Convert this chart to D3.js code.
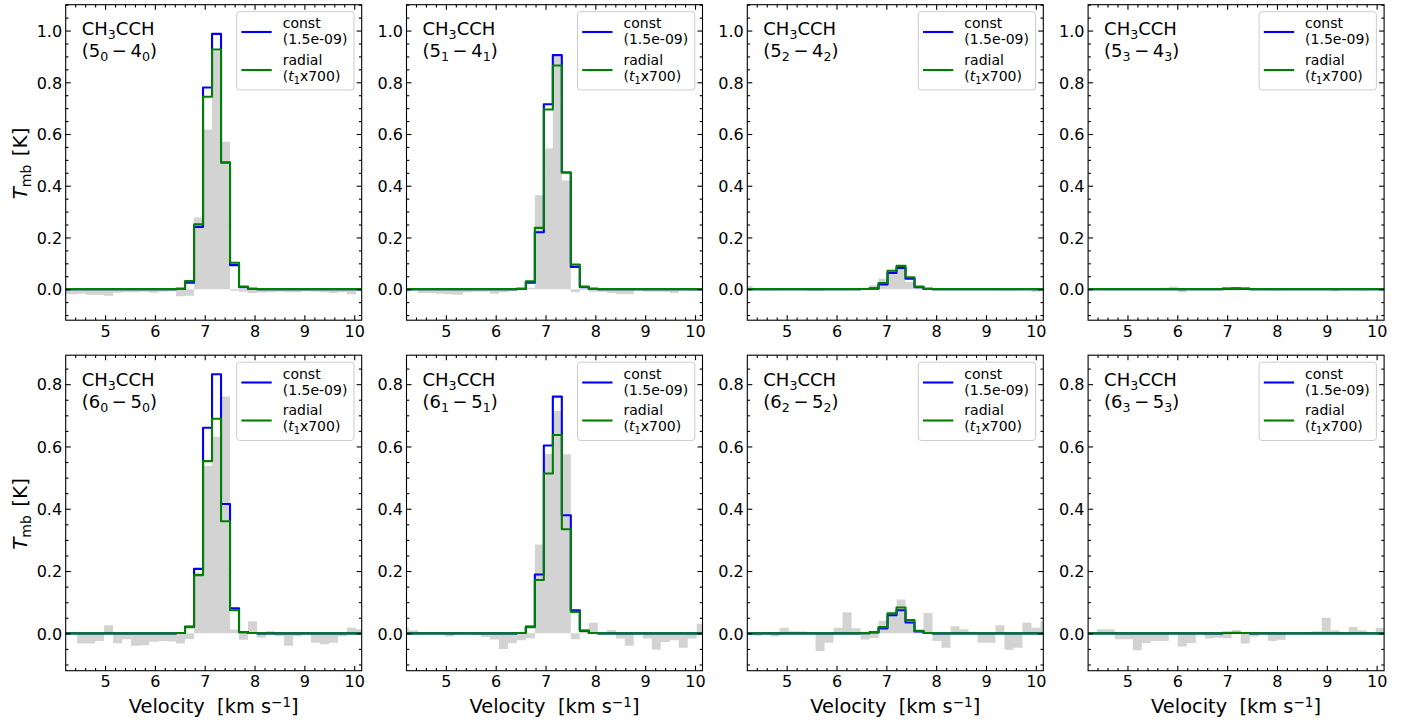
<!DOCTYPE html>
<html>
<head>
<meta charset="utf-8">
<script src="https://cdn.jsdelivr.net/npm/d3@7"></script>
<style>
  html, body { margin: 0; padding: 0; background: #ffffff; }
  svg { display: block; font-family: "DejaVu Sans", sans-serif; }
</style>
</head>
<body>
<svg id="fig" width="1406" height="722"></svg>
<script>
// ---- channel centres (km/s) of the three spectral grids ----
const velA = [4.168, 4.349, 4.529, 4.710, 4.890, 5.071, 5.251, 5.432, 5.612, 5.793,
              5.973, 6.154, 6.334, 6.515, 6.695, 6.876, 7.056, 7.237, 7.417, 7.598,
              7.778, 7.959, 8.139, 8.320, 8.500, 8.681, 8.861, 9.042, 9.222, 9.403,
              9.583, 9.764, 9.944, 10.125, 10.305];
const velB = [4.114, 4.295, 4.475, 4.656, 4.836, 5.017, 5.197, 5.378, 5.558, 5.739,
              5.919, 6.100, 6.280, 6.461, 6.641, 6.822, 7.002, 7.183, 7.363, 7.544,
              7.724, 7.905, 8.085, 8.266, 8.446, 8.627, 8.807, 8.988, 9.168, 9.349,
              9.529, 9.710, 9.890, 10.071, 10.251];
const velC = [4.226, 4.407, 4.587, 4.768, 4.948, 5.129, 5.309, 5.490, 5.670, 5.851,
              6.031, 6.212, 6.392, 6.573, 6.753, 6.934, 7.114, 7.295, 7.475, 7.656,
              7.836, 8.017, 8.197, 8.378, 8.558, 8.739, 8.919, 9.100, 9.280, 9.461,
              9.641, 9.822, 10.002, 10.183];

// ---- observed spectra, T_mb (K) ----
const obs50 = [-0.020,-0.020,-0.018,-0.022,-0.022,-0.025,-0.014,-0.012,-0.012,-0.010,
               -0.014,-0.010,-0.008,-0.027,-0.025,0.277,0.617,0.920,0.570,-0.006,
               -0.010,-0.015,-0.013,-0.012,-0.010,-0.012,-0.012,-0.008,-0.010,-0.012,
               -0.015,-0.012,-0.020,-0.008,0];
const obs51 = [-0.012,-0.005,-0.015,-0.015,-0.018,-0.020,-0.022,-0.012,-0.010,-0.010,
               -0.018,-0.012,-0.008,-0.005,0.005,0.363,0.544,0.900,0.420,-0.012,
               -0.003,-0.010,-0.010,-0.015,-0.020,-0.020,-0.005,-0.010,-0.010,-0.010,
               -0.015,-0.005,-0.008,-0.005,0];
const obs52 = [0.012,-0.003,-0.005,-0.004,0.002,0.003,0.002,-0.006,-0.006,0.001,
               0.002,-0.002,-0.003,0.005,0.015,0.040,0.058,0.080,0.028,0.010,
               -0.002,0.001,-0.002,0.001,-0.003,0.001,-0.002,0.002,-0.004,-0.005,
               0.001,0.002,-0.010,-0.008];
const obs53 = [0,0.001,-0.002,0.001,-0.002,-0.003,-0.003,0.001,0.002,0.005,
               0.010,-0.012,0.001,-0.002,0.002,0.001,-0.005,-0.005,0.003,0.002,
               -0.001,-0.004,-0.004,0.001,0,0.001,-0.001,0.002,-0.008,0.002,
               0,-0.005,0.001,0,0];
const obs60 = [0,0,-0.033,-0.033,-0.025,0.026,-0.032,-0.019,-0.040,-0.038,
               -0.027,-0.025,-0.026,-0.033,-0.018,0.195,0.538,0.631,0.760,0.012,
               -0.021,0.039,-0.014,0.007,-0.009,-0.040,-0.009,0,-0.030,-0.035,
               -0.030,-0.009,0.018,0.013,0];
const obs61 = [0.018,0.010,0.002,0.004,0.004,-0.010,0.003,0.002,-0.004,-0.012,
               -0.020,-0.050,-0.032,-0.022,-0.016,0.285,0.576,0.714,0.575,-0.019,
               0.005,0.034,-0.002,0.011,-0.017,-0.040,-0.003,-0.017,-0.053,-0.028,
               -0.022,-0.046,-0.017,0.031,0];
const obs62 = [0,-0.008,0.004,-0.010,0.018,0.007,0.006,0,-0.057,-0.030,
               0.018,0.068,0.016,-0.020,-0.015,0.040,0.060,0.109,0.040,0.008,
               0.065,-0.025,-0.046,0.023,0.013,0.005,-0.030,-0.030,0.026,-0.053,
               -0.046,0.034,0.018,0.040];
const obs63 = [0,0,0.013,0.013,-0.019,-0.019,-0.054,-0.031,-0.025,-0.025,
               0.001,-0.042,-0.031,-0.002,-0.017,-0.014,-0.016,0.011,-0.033,-0.010,
               -0.002,-0.025,-0.021,0,0.001,0.003,0.007,0.050,0.010,-0.003,
               0.020,0.010,0,0.018,0];

// ---- model spectra: constant abundance ----
const const50 = [0,0,0,0,0,0,0,0,0,0, 0,0,0,0.001,0.025,0.241,0.780,0.987,0.490,0.093,
                 0.008,0.001,0,0,0,0,0,0,0,0, 0,0,0,0,0];
const const51 = [0,0,0,0,0,0,0,0,0,0, 0,0,0,0.001,0.025,0.220,0.715,0.905,0.451,0.086,
                 0.008,0.001,0,0,0,0,0,0,0,0, 0,0,0,0,0];
const const52 = [0,0,0,0,0,0,0,0,0,0, 0,0,0,0.0005,0.002,0.018,0.063,0.082,0.040,0.008,
                 0.001,0,0,0,0,0,0,0,0,0, 0,0,0,0];
const const53 = [0,0,0,0,0,0,0,0,0,0, 0,0,0,0,0,0,0.001,0.002,0.001,0,
                 0,0,0,0,0,0,0,0,0,0, 0,0,0,0,0];
const const60 = [0,0,0,0,0,0,0,0,0,0, 0,0,0,0.001,0.022,0.207,0.660,0.832,0.415,0.080,
                 0.004,0.001,0,0,0,0,0,0,0,0, 0,0,0,0,0];
const const61 = [0,0,0,0,0,0,0,0,0,0, 0,0,0,0.001,0.022,0.189,0.603,0.760,0.379,0.074,
                 0.008,0.001,0,0,0,0,0,0,0,0, 0,0,0,0,0];
const const62 = [0,0,0,0,0,0,0,0,0,0, 0,0,0,0.0005,0.003,0.016,0.058,0.074,0.035,0.006,
                 0.001,0,0,0,0,0,0,0,0,0, 0,0,0,0];
const const63 = [0,0,0,0,0,0,0,0,0,0, 0,0,0,0,0,0,0.001,0.001,0.001,0,
                 0,0,0,0,0,0,0,0,0,0, 0,0,0,0,0];

// ---- model spectra: radial abundance profile ----
const radial50 = [0,0,0,0,0,0,0,0,0,0, 0,0,0,0.001,0.031,0.251,0.744,0.927,0.490,0.102,
                  0.010,0.001,0,0,0,0,0,0,0,0, 0,0,0,0,0];
const radial51 = [0,0,0,0,0,0,0,0,0,0, 0,0,0,0.001,0.030,0.237,0.695,0.865,0.451,0.095,
                  0.010,0.001,0,0,0,0,0,0,0,0, 0,0,0,0,0];
const radial52 = [0,0,0,0,0,0,0,0,0,0, 0,0,0,0.0005,0.003,0.024,0.071,0.090,0.046,0.010,
                  0.001,0,0,0,0,0,0,0,0,0, 0,0,0,0];
const radial53 = [0,0,0,0,0,0,0,0,0,0, 0,0,0,0,0,0,0.002,0.003,0.002,0,
                  0,0,0,0,0,0,0,0,0,0, 0,0,0,0,0];
const radial60 = [0,0,0,0,0,0,0,0,0,0, 0,0,0,0.001,0.020,0.187,0.553,0.689,0.360,0.074,
                  0.004,0.001,0,0,0,0,0,0,0,0, 0,0,0,0,0];
const radial61 = [0,0,0,0,0,0,0,0,0,0, 0,0,0,0.001,0.020,0.171,0.513,0.637,0.334,0.069,
                  0.009,0.001,0,0,0,0,0,0,0,0, 0,0,0,0,0];
const radial62 = [0,0,0,0,0,0,0,0,0,0, 0,0,0,0.0005,0.004,0.020,0.064,0.083,0.043,0.008,
                  0.001,0,0,0,0,0,0,0,0,0, 0,0,0,0];
const radial63 = [0,0,0,0,0,0,0,0,0,0, 0,0,0,0,0,0,0.002,0.002,0.001,0,
                  0,0,0,0,0,0,0,0,0,0, 0,0,0,0,0];

// ---- axis ranges and tick labels ----
const xRange = [4.21, 10.15];
const yRangeJ5 = [-0.12, 1.10];
const yRangeJ6 = [-0.12, 0.893];
const xTicks = [5, 6, 7, 8, 9, 10];
const yTicksJ5 = [0.0, 0.2, 0.4, 0.6, 0.8, 1.0];
const yTicksJ6 = [0.0, 0.2, 0.4, 0.6, 0.8];
const legendConst = "(1.5e-09)";
const legendRadialFactor = "x700)";

// transitions: upper J, K, lower J
const panels = [
  { Ju: "5", K: "0", Jl: "4", vel: velA, obs: obs50, cst: const50, rad: radial50 },
  { Ju: "5", K: "1", Jl: "4", vel: velA, obs: obs51, cst: const51, rad: radial51 },
  { Ju: "5", K: "2", Jl: "4", vel: velC, obs: obs52, cst: const52, rad: radial52 },
  { Ju: "5", K: "3", Jl: "4", vel: velB, obs: obs53, cst: const53, rad: radial53 },
  { Ju: "6", K: "0", Jl: "5", vel: velA, obs: obs60, cst: const60, rad: radial60 },
  { Ju: "6", K: "1", Jl: "5", vel: velA, obs: obs61, cst: const61, rad: radial61 },
  { Ju: "6", K: "2", Jl: "5", vel: velC, obs: obs62, cst: const62, rad: radial62 },
  { Ju: "6", K: "3", Jl: "5", vel: velB, obs: obs63, cst: const63, rad: radial63 }
];

// ---- layout ----
const colLeft = [65.7, 406.5, 747.3, 1088.1];
const rowTop = [4.7, 355.2];
const PW = 296, PH = 315.5;
const FS_TICK = 16, FS_XLAB = 19.4, FS_YLAB = 20, FS_NOTE = 18, FS_LEG = 14;

const svg = d3.select("#fig");
const defs = svg.append("defs");

// bin edges from channel centres
function binEdges(v) {
  const e = [v[0] - (v[1] - v[0]) / 2];
  for (let i = 1; i < v.length; i++) e.push((v[i - 1] + v[i]) / 2);
  const n = v.length;
  e.push(v[n - 1] + (v[n - 1] - v[n - 2]) / 2);
  return e;
}
function stepPoints(vel, vals) {
  const e = binEdges(vel);
  const pts = vals.map((t, i) => ({ x: e[i], t: t }));
  pts.push({ x: e[vals.length], t: vals[vals.length - 1] });
  return pts;
}

panels.forEach((p, idx) => {
  const row = Math.floor(idx / 4), col = idx % 4;
  const x0 = colLeft[col], y0 = rowTop[row];
  const yDom = row === 0 ? yRangeJ5 : yRangeJ6;
  const yTicks = row === 0 ? yTicksJ5 : yTicksJ6;

  const x = d3.scaleLinear().domain(xRange).range([0, PW]);
  const y = d3.scaleLinear().domain(yDom).range([PH, 0]);

  const g = svg.append("g").attr("transform", `translate(${x0},${y0})`);
  const clipId = "clip" + idx;
  defs.append("clipPath").attr("id", clipId)
    .append("rect").attr("width", PW).attr("height", PH);
  const plot = g.append("g").attr("clip-path", `url(#${clipId})`);

  // observed spectrum as a filled histogram
  const area = d3.area()
    .x(d => x(d.x)).y0(y(0)).y1(d => y(d.t))
    .curve(d3.curveStepAfter);
  plot.append("path").datum(stepPoints(p.vel, p.obs))
    .attr("d", area).attr("fill", "#d3d3d3").attr("stroke", "none");

  // model spectra
  const line = d3.line().x(d => x(d.x)).y(d => y(d.t)).curve(d3.curveStepAfter);
  plot.append("path").datum(stepPoints(p.vel, p.cst))
    .attr("d", line).attr("fill", "none").attr("stroke", "#0000ff")
    .attr("stroke-width", 2.1).attr("stroke-linejoin", "round");
  plot.append("path").datum(stepPoints(p.vel, p.rad))
    .attr("d", line).attr("fill", "none").attr("stroke", "#008000")
    .attr("stroke-width", 2.1).attr("stroke-linejoin", "round");

  // ticks (inward, on all four sides)
  const xMinor = d3.range(4.2, 10.21, 0.2).filter(v => v >= xRange[0] && v <= xRange[1]
                     && Math.abs(v - Math.round(v)) > 1e-6);
  const yMinor = d3.range(-0.10, yDom[1], 0.05).filter(v => v >= yDom[0] && v <= yDom[1]
                     && Math.abs(v * 5 - Math.round(v * 5)) > 1e-6);
  const MAJ = 5, MIN = 2.8;

  function styleAxis(sel) {
    sel.select(".domain").remove();
    sel.selectAll(".tick line").attr("stroke", "#000").attr("stroke-width", 1.1);
    sel.selectAll(".tick text").attr("fill", "#000").attr("font-size", FS_TICK)
      .attr("font-family", "DejaVu Sans, sans-serif");
  }

  // bottom
  g.append("g").attr("transform", `translate(0,${PH})`)
    .call(d3.axisBottom(x).tickValues(xTicks).tickFormat(d3.format("d"))
      .tickSize(-MAJ).tickPadding(5.3))
    .call(styleAxis);
  g.append("g").attr("transform", `translate(0,${PH})`)
    .call(d3.axisBottom(x).tickValues(xMinor).tickFormat("").tickSize(-MIN))
    .call(styleAxis);
  // top
  g.append("g")
    .call(d3.axisTop(x).tickValues(xTicks).tickFormat("").tickSize(-MAJ))
    .call(styleAxis);
  g.append("g")
    .call(d3.axisTop(x).tickValues(xMinor).tickFormat("").tickSize(-MIN))
    .call(styleAxis);
  // left
  const la = g.append("g")
    .call(d3.axisLeft(y).tickValues(yTicks).tickFormat(d3.format(".1f"))
      .tickSize(-MAJ).tickPadding(3.6))
    .call(styleAxis);
  la.selectAll(".tick text").attr("dy", "0.36em");
  g.append("g")
    .call(d3.axisLeft(y).tickValues(yMinor).tickFormat("").tickSize(-MIN))
    .call(styleAxis);
  // right
  g.append("g").attr("transform", `translate(${PW},0)`)
    .call(d3.axisRight(y).tickValues(yTicks).tickFormat("").tickSize(-MAJ))
    .call(styleAxis);
  g.append("g").attr("transform", `translate(${PW},0)`)
    .call(d3.axisRight(y).tickValues(yMinor).tickFormat("").tickSize(-MIN))
    .call(styleAxis);

  // frame
  g.append("rect").attr("width", PW).attr("height", PH)
    .attr("fill", "none").attr("stroke", "#000").attr("stroke-width", 1.1);

  // species and transition label
  const subSize = FS_NOTE * 0.7;
  const t1 = g.append("text").attr("x", 16).attr("y", 30.8)
    .attr("font-size", FS_NOTE).attr("fill", "#000");
  t1.append("tspan").text("CH");
  t1.append("tspan").attr("dy", 4).attr("font-size", subSize).text("3");
  t1.append("tspan").attr("dy", -4).text("CCH");

  const t2 = g.append("text").attr("x", 16).attr("y", 30.8 + 21.6)
    .attr("font-size", FS_NOTE).attr("fill", "#000").style("white-space", "pre");
  t2.append("tspan").text("(" + p.Ju);
  t2.append("tspan").attr("dy", 4).attr("font-size", subSize).text(p.K);
  t2.append("tspan").attr("dy", -4).text("\u2009\u2212\u2009" + p.Jl);
  t2.append("tspan").attr("dy", 4).attr("font-size", subSize).text(p.K);
  t2.append("tspan").attr("dy", -4).text(")");

  // legend
  const LW = 117.3, LH = 78.3;
  const lg = g.append("g").attr("transform", `translate(${PW - 7.7 - LW},7)`);
  lg.append("rect").attr("width", LW).attr("height", LH).attr("rx", 3)
    .attr("fill", "#ffffff").attr("fill-opacity", 0.8)
    .attr("stroke", "#cccccc").attr("stroke-width", 1);
  const legSub = FS_LEG * 0.7;
  const entries = [
    { color: "#0000ff", yl: 20.3, b1: 16.6, b2: 32.6 },
    { color: "#008000", yl: 58.3, b1: 53.3, b2: 69.3 }
  ];
  entries.forEach((e, k) => {
    lg.append("line").attr("x1", 4.7).attr("x2", 35).attr("y1", e.yl).attr("y2", e.yl)
      .attr("stroke", e.color).attr("stroke-width", 2.1);
    lg.append("text").attr("x", 46).attr("y", e.b1).attr("font-size", FS_LEG)
      .attr("fill", "#000").text(k === 0 ? "const" : "radial");
    const tt = lg.append("text").attr("x", 46).attr("y", e.b2)
      .attr("font-size", FS_LEG).attr("fill", "#000");
    if (k === 0) {
      tt.text(legendConst);
    } else {
      tt.append("tspan").text("(");
      tt.append("tspan").attr("font-style", "italic").text("t");
      tt.append("tspan").attr("dy", 3).attr("font-size", legSub).text("1");
      tt.append("tspan").attr("dy", -3).text(legendRadialFactor);
    }
  });

  // axis titles
  if (col === 0) {
    const yl = g.append("text")
      .attr("transform", `translate(${27.4 - x0},${PH / 2 + 1}) rotate(-90)`)
      .attr("text-anchor", "middle").attr("font-size", FS_YLAB).attr("fill", "#000")
      .style("white-space", "pre");
    yl.append("tspan").attr("font-style", "italic").text("T");
    yl.append("tspan").attr("dy", 3.8).attr("font-size", FS_YLAB * 0.7).text("mb");
    yl.append("tspan").attr("dy", -3.8).attr("dx", 2).text(" [K]");
  }
  if (row === 1) {
    const xl = g.append("text")
      .attr("x", PW / 2).attr("y", 713.5 - y0)
      .attr("text-anchor", "middle").attr("font-size", FS_XLAB).attr("fill", "#000")
      .style("white-space", "pre");
    xl.append("tspan").text("Velocity  [km s");
    xl.append("tspan").attr("dy", -6.9).attr("font-size", FS_XLAB * 0.7).text("\u22121");
    xl.append("tspan").attr("dy", 6.9).text("]");
  }
});
</script>
</body>
</html>
